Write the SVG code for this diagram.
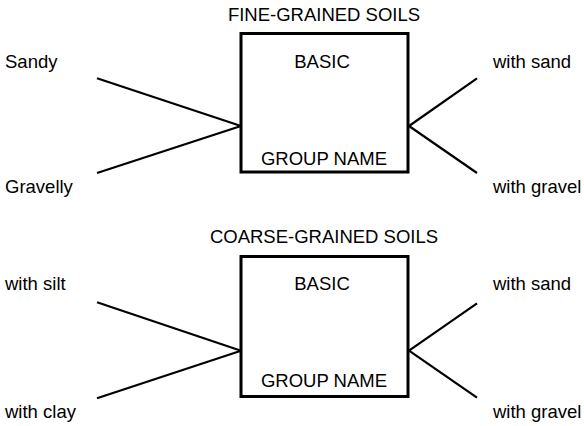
<svg xmlns="http://www.w3.org/2000/svg" width="584" height="426" viewBox="0 0 584 426">
<style>
text{font-family:"Liberation Sans",Arial,sans-serif;font-size:18.5px;fill:#000}
.box{fill:#fff;stroke:#000;stroke-width:3}
.c line{stroke:#000;stroke-width:2.2}
.m{text-anchor:middle}
</style>
<rect width="584" height="426" fill="#fff"/>
<g id="fine-title"><text class="m" x="324" y="20.5">FINE-GRAINED SOILS</text></g>
<g id="fine-box"><rect class="box" x="241" y="33.5" width="167" height="138.5"/><text class="m" x="322" y="68">BASIC</text><text class="m" x="324" y="165">GROUP NAME</text></g>
<g id="sandy"><text x="5" y="68">Sandy</text></g>
<g id="gravelly"><text x="5" y="193">Gravelly</text></g>
<g id="fine-with-sand"><text x="493" y="68">with sand</text></g>
<g id="fine-with-gravel"><text x="493" y="193">with gravel</text></g>
<g id="coarse-title"><text class="m" x="324" y="243">COARSE-GRAINED SOILS</text></g>
<g id="coarse-box"><rect class="box" x="241" y="256.5" width="167" height="140"/><text class="m" x="322" y="290">BASIC</text><text class="m" x="324" y="387">GROUP NAME</text></g>
<g id="with-silt"><text x="5" y="290">with silt</text></g>
<g id="with-clay"><text x="5" y="418">with clay</text></g>
<g id="coarse-with-sand"><text x="493" y="290">with sand</text></g>
<g id="coarse-with-gravel"><text x="493" y="418">with gravel</text></g>
<g id="connectors" class="c">
<line x1="97" y1="78.3" x2="241" y2="126"/>
<line x1="97" y1="173" x2="241" y2="126"/>
<line x1="409" y1="126" x2="477" y2="78.3"/>
<line x1="409" y1="126" x2="477" y2="173"/>
<line x1="97" y1="302.3" x2="241" y2="350.7"/>
<line x1="97" y1="398.3" x2="241" y2="350.7"/>
<line x1="409" y1="350.7" x2="477" y2="303.3"/>
<line x1="409" y1="350.7" x2="477" y2="397.7"/>
</g>
</svg>
